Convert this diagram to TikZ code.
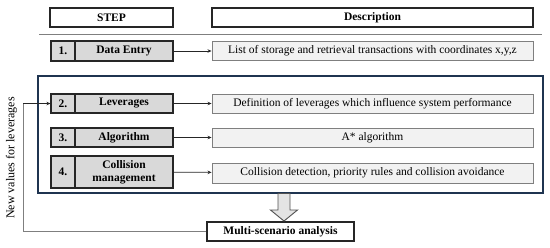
\documentclass[tikz,border=0pt]{standalone}
\usepackage{fontspec}
\setmainfont{Liberation Serif}
\usetikzlibrary{arrows.meta,calc}
\definecolor{stepfill}{HTML}{D9D9D9}
\definecolor{descfill}{HTML}{F2F2F2}
\definecolor{descline}{HTML}{7F7F7F}
\definecolor{frameline}{HTML}{1F3450}
\definecolor{darkline}{HTML}{262626}
\begin{document}
\begin{tikzpicture}[x=1pt,y=-1pt,
  txt/.style={font=\fontsize{11.5}{13}\selectfont},
  btxt/.style={font=\fontsize{11.5}{13}\selectfont\bfseries},
  headbox/.style={draw=darkline,line width=1.1pt,fill=white,inner sep=0pt,btxt},
  numcell/.style={draw=darkline,line width=1.1pt,fill=stepfill,inner sep=0pt,btxt,minimum width=24pt},
  titlecell/.style={draw=darkline,line width=1.1pt,fill=stepfill,inner sep=0pt,btxt,minimum width=98pt,align=center},
  descbox/.style={draw=descline,line width=0.9pt,fill=descfill,inner sep=0pt,txt,minimum width=321pt,minimum height=19pt},
  link/.style={draw=darkline,line width=0.8pt,-{Stealth[length=4pt,width=3.5pt]}},
  feed/.style={draw=descline,line width=0.8pt},
  hollow/.style={draw=darkline!80,line width=0.9pt,fill=stepfill!70,line join=miter}
]
\useasboundingbox (0,0) rectangle (550,247);

% headers
\node[headbox,minimum width=123pt,minimum height=19pt] (hstep) at (111.5,17.5) {STEP};
\node[headbox,minimum width=321pt,minimum height=19pt] (hdesc) at (372.5,17.5) {Description};
\coordinate (sepL) at (39,34);
\coordinate (sepR) at (542,34);
\draw[descline,line width=1pt] (sepL) -- (sepR);

% frame
\coordinate (frTL) at (38,76);
\coordinate (frBR) at (543,193);
\draw[frameline,line width=1.2pt] (frTL) rectangle (frBR);

% step 1
\node[numcell,minimum height=20pt] (n1) at (63,51) {1.};
\node[titlecell,minimum height=20pt] (t1) at (124,51) {Data Entry};
\node[descbox] (d1) at (372.5,51) {List of storage and retrieval transactions with coordinates x,y,z};
\draw[link] (t1) -- (d1);

% step 2
\node[numcell,minimum height=19pt] (n2) at (63,103.5) {2.};
\node[titlecell,minimum height=19pt] (t2) at (124,103.5) {Leverages};
\node[descbox] (d2) at (372.5,103.5) {Definition of leverages which influence system performance};
\draw[link] (t2) -- (d2);

% step 3
\node[numcell,minimum height=19pt] (n3) at (63,137.5) {3.};
\node[titlecell,minimum height=19pt] (t3) at (124,137.5) {Algorithm};
\node[descbox] (d3) at (372.5,137.5) {A* algorithm};
\draw[link] (t3) -- (d3);

% step 4
\node[numcell,minimum height=32pt] (n4) at (63,172) {4.};
\node[titlecell,minimum height=32pt] (t4) at (124,172) {Collision\\management};
\node[descbox,minimum height=20pt] (d4) at (372.5,173) {Collision detection, priority rules and collision avoidance};
\draw[link] (t4) -- (d4);

% multi-scenario
\node[headbox,minimum width=147pt,minimum height=19pt] (multi) at (280.5,231.5) {Multi-scenario analysis};

% hollow arrow
\coordinate (aTop) at (284,193.5);
\coordinate (aTip) at (284,221);
\draw[hollow] ($(aTop)+(-6,0)$) -- ($(aTip)+(-6,-11)$) -- ($(aTip)+(-13.5,-11)$) -- (aTip)
  -- ($(aTip)+(13.5,-11)$) -- ($(aTip)+(6,-11)$) -- ($(aTop)+(6,0)$) -- cycle;

% feedback loop
\coordinate (fbB) at (23,231.5);
\coordinate (fbT) at (23,103.5);
\draw[feed] (multi.west) -- (fbB) -- (fbT);
\draw[link] (fbT) -- (n2.west);
\node[txt,font=\fontsize{12}{14}\selectfont,rotate=90] (fblabel) at (11.5,158) {New values for leverages};
\end{tikzpicture}
\end{document}
